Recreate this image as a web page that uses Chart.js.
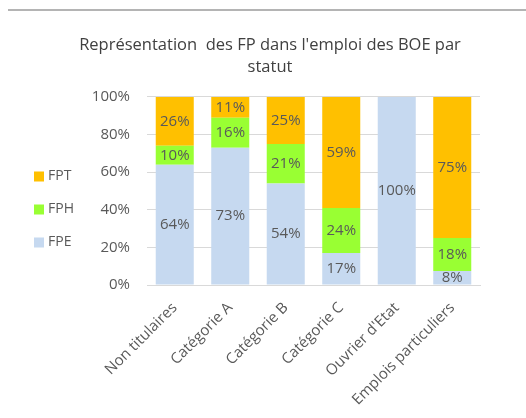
<!DOCTYPE html>
<html lang="fr">
<head>
  <meta charset="UTF-8" />
  <title>Représentation des FP dans l'emploi des BOE par statut</title>
  <script src="https://cdn.jsdelivr.net/npm/chart.js"></script>
  <style>
    body {
      margin: 0;
      background-color: #fff;
    }
    canvas {
      display: block;
    }
  </style>
</head>
<body>
  <canvas id="boeChart" width="526" height="418"></canvas>

  <script>
    const categories = ["Non titulaires", "Catégorie A", "Catégorie B", "Catégorie C", "Ouvrier d'Etat", "Emplois particuliers"];
    const fpe = [64, 73, 54, 17, 100, 7.5];
    const fph = [10, 16, 21, 24, 0, 17.5];
    const fpt = [26, 11, 25, 59, 0, 75];
    const yTicks = [0, 20, 40, 60, 80, 100];

    const FONT = "'Open Sans', sans-serif";
    const GREY = "#595959";

    Chart.defaults.font.family = FONT;
    Chart.defaults.color = GREY;

    // top border line of the frame
    const frameLine = {
      id: "frameLine",
      beforeDraw(chart) {
        const ctx = chart.ctx;
        ctx.save();
        ctx.fillStyle = "#b4b4b4";
        ctx.fillRect(8, 9, 518, 2);
        ctx.restore();
      }
    };

    // percent labels in the middle of each segment
    const segmentLabels = {
      id: "segmentLabels",
      afterDatasetsDraw(chart) {
        const ctx = chart.ctx;
        ctx.save();
        ctx.font = "15px " + FONT;
        ctx.fillStyle = GREY;
        ctx.textAlign = "center";
        ctx.textBaseline = "middle";
        chart.data.datasets.forEach((ds, i) => {
          chart.getDatasetMeta(i).data.forEach((bar, j) => {
            const v = ds.data[j];
            if (!v) return;
            const p = bar.getProps(["x", "y", "base"], true);
            ctx.fillText(Math.round(v) + "%", p.x, (p.y + p.base) / 2);
          });
        });
        ctx.restore();
      }
    };

    // legend on the left, top item = last series
    const sideLegend = {
      id: "sideLegend",
      afterDraw(chart) {
        const ctx = chart.ctx;
        const items = chart.data.datasets.slice().reverse();
        ctx.save();
        ctx.font = "14px " + FONT;
        ctx.textBaseline = "middle";
        items.forEach((ds, k) => {
          const cy = 176.5 + k * 33;
          ctx.fillStyle = ds.backgroundColor;
          ctx.fillRect(34, cy - 5, 10, 10);
          ctx.fillStyle = GREY;
          ctx.fillText(ds.label, 48, cy);
        });
        ctx.restore();
      }
    };

    const ctx = document.getElementById("boeChart").getContext("2d");

    new Chart(ctx, {
      type: "bar",
      data: {
        labels: categories,
        datasets: [
          { label: "FPE", data: fpe, backgroundColor: "#c6d9f0" },
          { label: "FPH", data: fph, backgroundColor: "#99ff33" },
          { label: "FPT", data: fpt, backgroundColor: "#ffc000" }
        ]
      },
      options: {
        responsive: false,
        animation: false,
        categoryPercentage: 1,
        barPercentage: 0.685,
        layout: {
          padding: { left: 60, right: 46, top: 0, bottom: 0 }
        },
        plugins: {
          legend: { display: false },
          tooltip: { enabled: false },
          title: {
            display: true,
            text: ["Représentation  des FP dans l'emploi des BOE par", "statut"],
            color: "#404040",
            font: { size: 16.5, weight: "normal", lineHeight: 1.333 },
            padding: { top: 34, bottom: 19 }
          }
        },
        scales: {
          x: {
            stacked: true,
            grid: { display: false },
            border: { display: true, color: "#d9d9d9" },
            ticks: {
              autoSkip: false,
              minRotation: 45,
              maxRotation: 45,
              padding: 6,
              font: { size: 15 }
            },
            afterFit(scale) {
              scale.height = 133;
            }
          },
          y: {
            stacked: true,
            min: 0,
            max: 100,
            afterBuildTicks(scale) {
              scale.ticks = yTicks.map(v => ({ value: v }));
            },
            grid: { color: "#d9d9d9", drawTicks: false },
            border: { display: false },
            ticks: {
              padding: 17,
              font: { size: 15 },
              callback: v => v + "%"
            },
            afterFit(scale) {
              scale.width = 87;
            }
          }
        }
      },
      plugins: [frameLine, segmentLabels, sideLegend]
    });
  </script>
</body>
</html>
